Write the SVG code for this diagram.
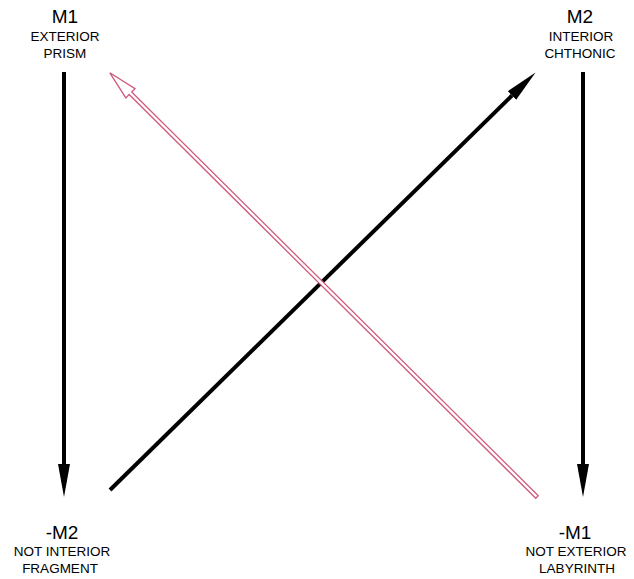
<svg xmlns="http://www.w3.org/2000/svg" width="634" height="579" viewBox="0 0 634 579">
<style>
.t{font-family:"Liberation Sans","DejaVu Sans",sans-serif;fill:#000;text-anchor:middle}
.big{font-size:19px}
.sm{font-size:13.5px}
.blk{stroke:#000;stroke-width:4;fill:none}
</style>
<defs>
<marker id="ah" markerUnits="userSpaceOnUse" markerWidth="34" markerHeight="14" refX="0" refY="7" orient="auto" viewBox="0 0 34 14">
<path d="M0,1 L33,7 L0,13 Z" fill="#000"/>
</marker>
</defs>
<rect width="634" height="579" fill="#fff"/>
<g id="m1">
<text class="t big" x="65" y="23">M1</text>
<text class="t sm" x="65" y="41">EXTERIOR</text>
<text class="t sm" x="65" y="57.5">PRISM</text>
</g>
<g id="m2">
<text class="t big" x="580" y="23">M2</text>
<text class="t sm" x="581" y="40.5">INTERIOR</text>
<text class="t sm" x="580" y="57.5">CHTHONIC</text>
</g>
<g id="not-m2">
<text class="t big" x="62" y="538.5">-M2</text>
<text class="t sm" x="62" y="555.5">NOT INTERIOR</text>
<text class="t sm" x="60" y="573">FRAGMENT</text>
</g>
<g id="not-m1">
<text class="t big" x="575" y="538.5">-M1</text>
<text class="t sm" x="576" y="555.5">NOT EXTERIOR</text>
<text class="t sm" x="577" y="573">LABYRINTH</text>
</g>
<g id="connectors">
<line class="blk" x1="64" y1="72" x2="64" y2="464" marker-end="url(#ah)"/>
<line class="blk" x1="583" y1="72" x2="583" y2="464" marker-end="url(#ah)"/>
<line class="blk" x1="110" y1="490" x2="512" y2="95.5" marker-end="url(#ah)"/>
<g transform="translate(537,497) rotate(-135.2)">
<polygon points="0,-1.8 573,-1.8 573,-6.5 602,0 573,6.5 573,1.8 0,1.8" fill="#fff" stroke="#d05a7c" stroke-width="1.3" stroke-linejoin="miter"/>
</g>
</g>
</svg>
